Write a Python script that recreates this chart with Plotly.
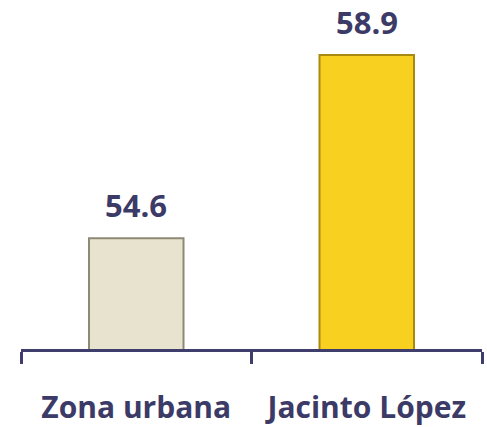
import plotly.graph_objects as go

# data
zones = ["Zona urbana", "Jacinto López"]
values = [54.6, 58.9]
bar_colors = ["#E8E3CF", "#F8D120"]
edge_colors = ["#8C8A74", "#A88A10"]

text_color = "#3C3A66"
font_family = "'Open Sans', sans-serif"

fig = go.Figure()
fig.add_trace(go.Bar(
    x=zones, y=values,
    width=0.41,
    marker=dict(color=bar_colors, line=dict(color=edge_colors, width=2)),
    hoverinfo="x+y",
))

# value labels above bars
for z, v in zip(zones, values):
    fig.add_annotation(x=z, y=v, text="<b>%.1f</b>" % v, showarrow=False,
                       yanchor="bottom", yshift=10,
                       font=dict(size=31, color=text_color, family=font_family))

fig.update_layout(
    width=487, height=427,
    margin=dict(l=21, r=5, t=8, b=78, autoexpand=False),
    plot_bgcolor="white", paper_bgcolor="white",
    showlegend=False,
    xaxis=dict(
        automargin=False,
        showline=True, linecolor="#3F3D6B", linewidth=3,
        ticks="outside", tickson="boundaries", ticklen=12, tickwidth=3,
        tickcolor="#3F3D6B",
        tickfont=dict(size=30, color=text_color, family=font_family),
        ticklabelstandoff=30,
        tickprefix="<b>", ticksuffix="</b>",
    ),
    yaxis=dict(range=[52, 60], visible=False, showgrid=False, automargin=False),
)

# drop the default page margin so the figure sits at the window corner
fig.write_html("out.html", config={"displayModeBar": False},
               post_script="document.body.style.margin='0';")
